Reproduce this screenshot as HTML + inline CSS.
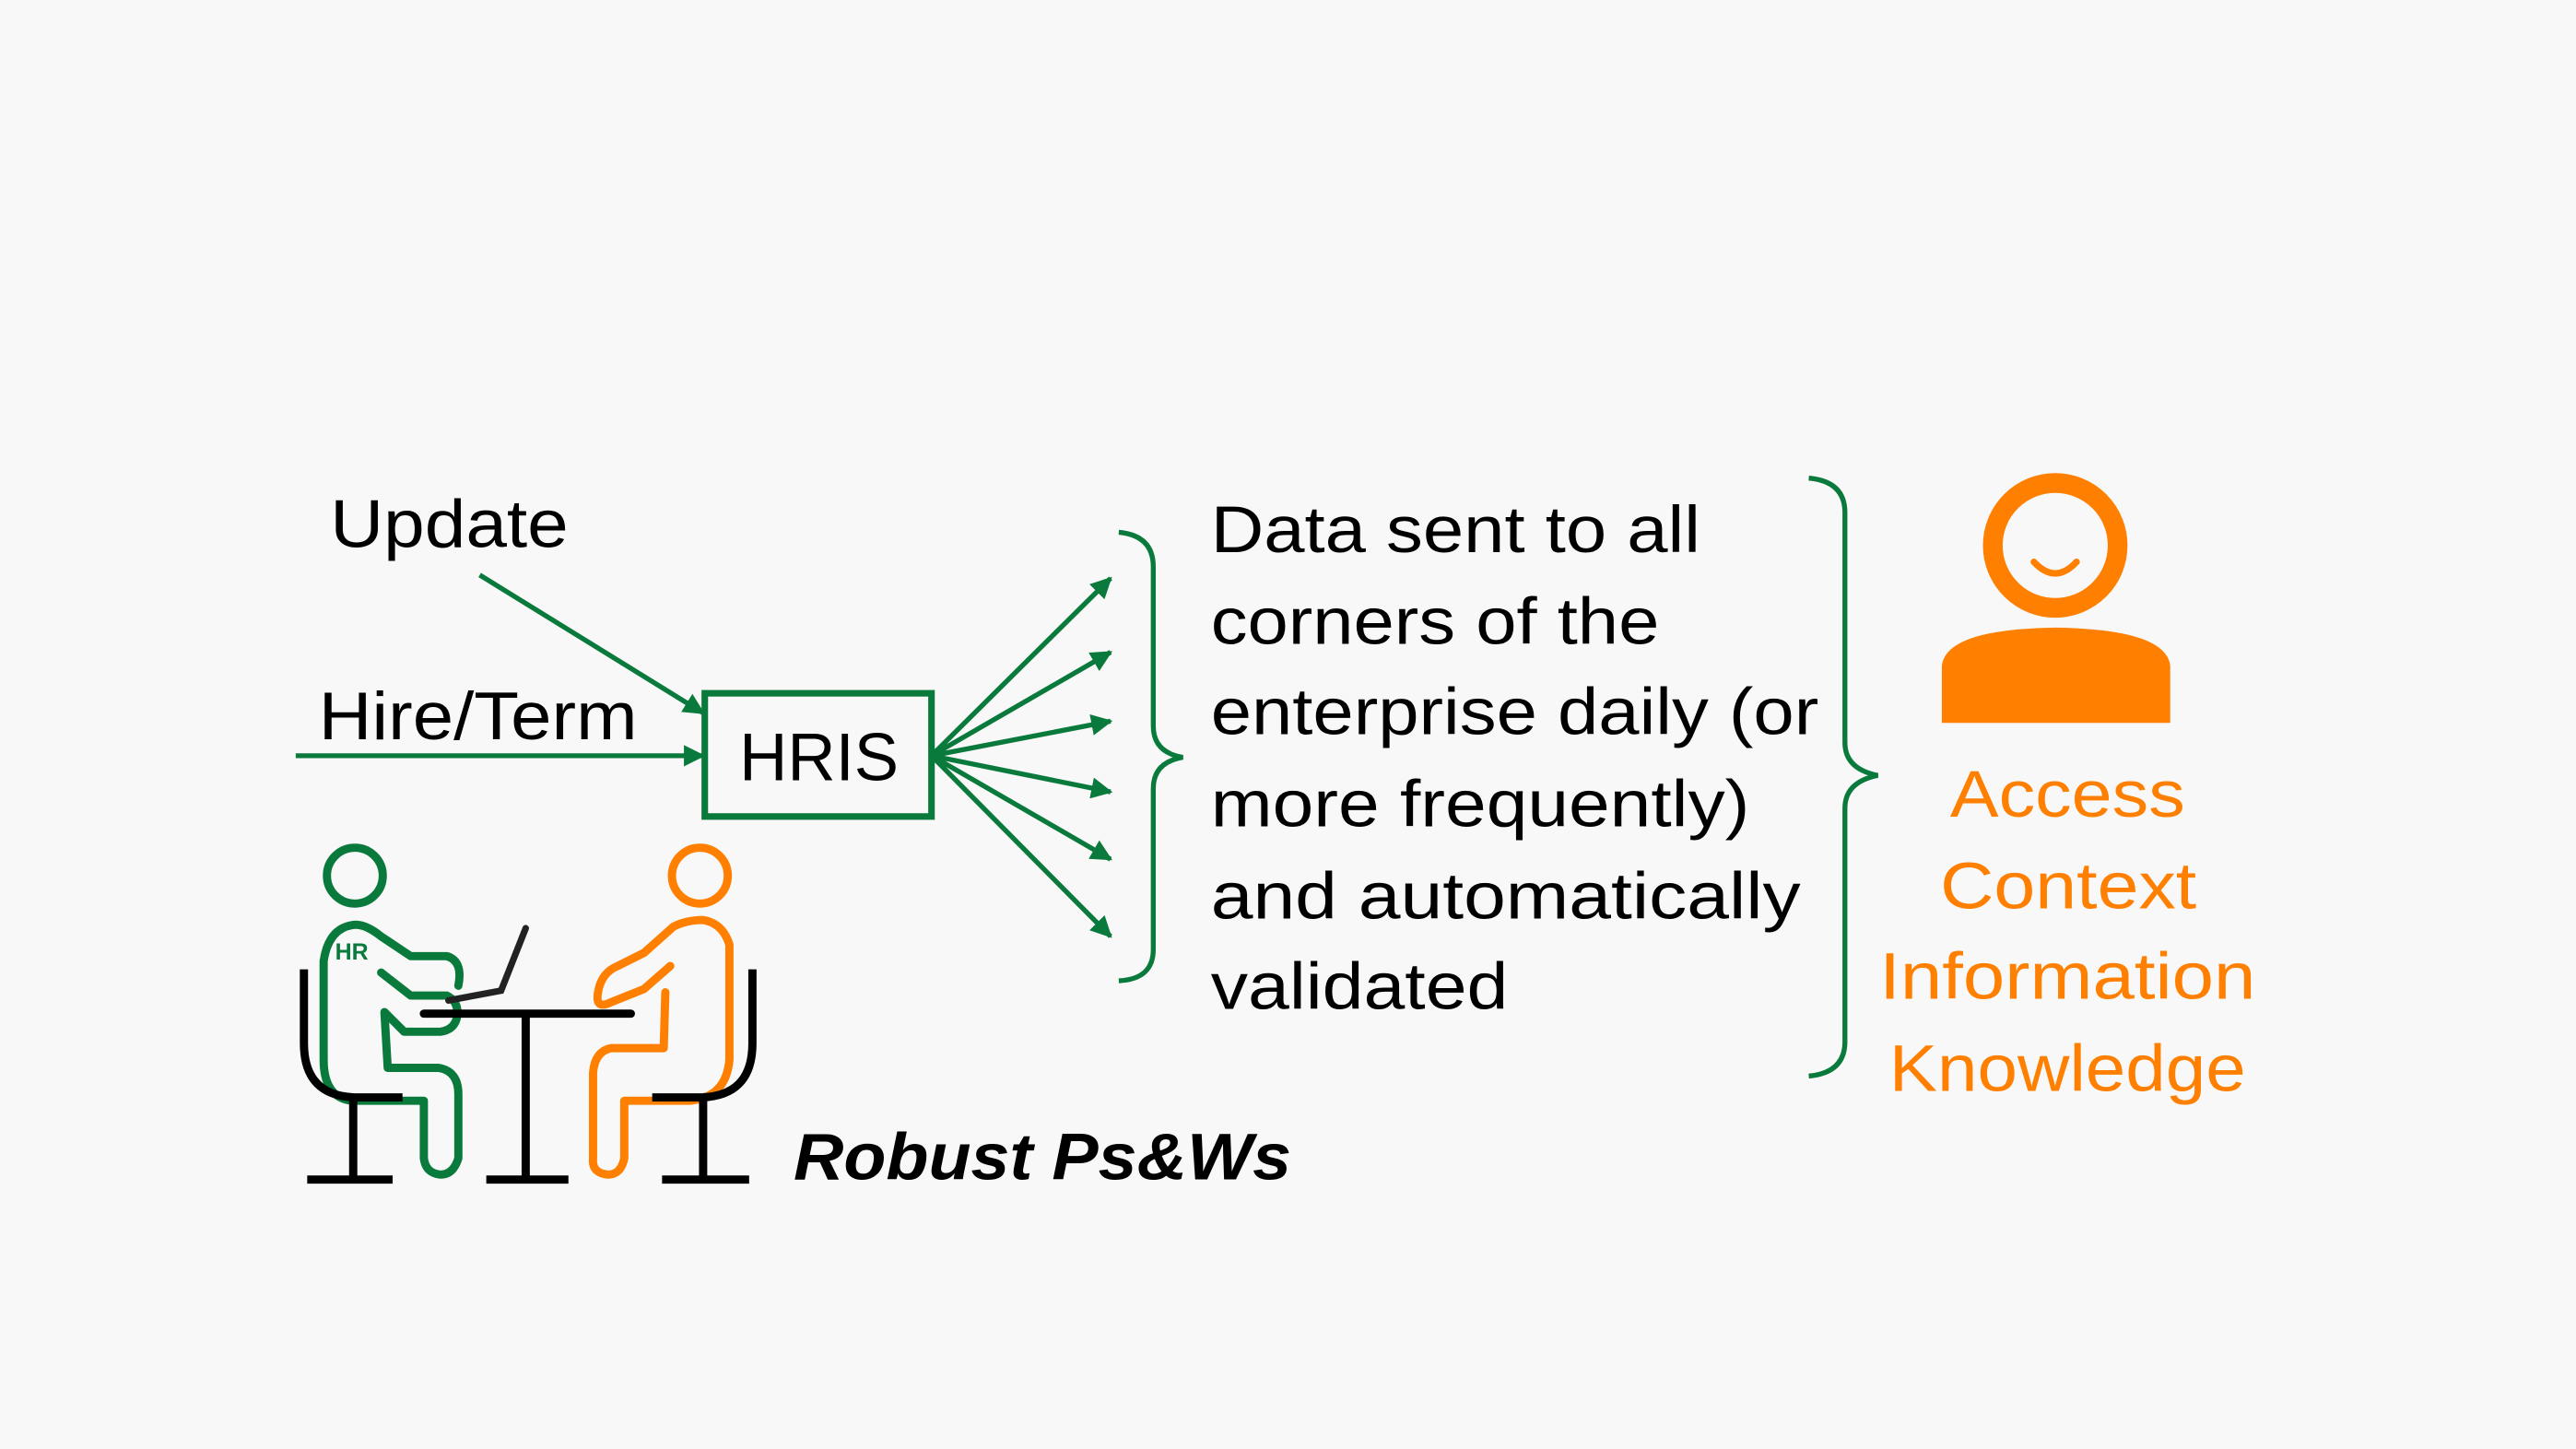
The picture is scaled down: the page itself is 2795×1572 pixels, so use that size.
<!DOCTYPE html>
<html><head><style>html,body{margin:0;padding:0;background:#f8f8f8}svg{display:block}</style></head>
<body>
<svg width="2795" height="1572" viewBox="0 0 1568 882" preserveAspectRatio="none" xmlns="http://www.w3.org/2000/svg" font-family="Liberation Sans, sans-serif">
<rect width="1568" height="882" fill="#f8f8f8"/>
<defs>
<marker id="b" viewBox="0 0 10 10" refX="9" refY="5" markerWidth="13" markerHeight="13" orient="auto" markerUnits="userSpaceOnUse"><path d="M0,0 L10,5 L0,10z" fill="#0a7a3c"/></marker></defs>
<g font-size="41" fill="#000" lengthAdjust="spacingAndGlyphs">
<text x="201" y="333" textLength="145" lengthAdjust="spacingAndGlyphs">Update</text>
<text x="194" y="450" textLength="194" lengthAdjust="spacingAndGlyphs">Hire/Term</text>
<text x="450" y="475" textLength="97" lengthAdjust="spacingAndGlyphs">HRIS</text>
<g font-size="40">
<text x="737" y="336" textLength="298" lengthAdjust="spacingAndGlyphs">Data sent to all</text>
<text x="737" y="392" textLength="273" lengthAdjust="spacingAndGlyphs">corners of the</text>
<text x="737" y="447" textLength="370" lengthAdjust="spacingAndGlyphs">enterprise daily (or</text>
<text x="737" y="503" textLength="328" lengthAdjust="spacingAndGlyphs">more frequently)</text>
<text x="737" y="559" textLength="359" lengthAdjust="spacingAndGlyphs">and automatically</text>
<text x="737" y="614" textLength="181" lengthAdjust="spacingAndGlyphs">validated</text></g>
<text x="483" y="718" font-weight="bold" font-style="italic" font-size="40" textLength="303" lengthAdjust="spacingAndGlyphs">Robust Ps&amp;Ws</text>
</g>
<g font-size="40" fill="#ff7f00">
<text x="1187" y="497" textLength="143" lengthAdjust="spacingAndGlyphs">Access</text>
<text x="1181" y="553" textLength="156" lengthAdjust="spacingAndGlyphs">Context</text>
<text x="1144" y="608" textLength="229" lengthAdjust="spacingAndGlyphs">Information</text>
<text x="1150" y="664" textLength="217" lengthAdjust="spacingAndGlyphs">Knowledge</text></g>
<g stroke="#0a7a3c" stroke-width="3" fill="none">
<line x1="292" y1="350" x2="428" y2="434" marker-end="url(#b)"/>
<line x1="180" y1="460" x2="428" y2="460" marker-end="url(#b)"/>
<rect x="429" y="422" width="138" height="75" stroke-width="4"/>
<line x1="567" y1="460" x2="676" y2="352" marker-end="url(#b)"/>
<line x1="567" y1="460" x2="676" y2="397" marker-end="url(#b)"/>
<line x1="567" y1="460" x2="676" y2="439" marker-end="url(#b)"/>
<line x1="567" y1="460" x2="676" y2="482" marker-end="url(#b)"/>
<line x1="567" y1="460" x2="676" y2="523" marker-end="url(#b)"/>
<line x1="567" y1="460" x2="676" y2="570" marker-end="url(#b)"/>
<path d="M681,324 Q702,326 702,345 L702,442 Q702,458 720,461 Q702,464 702,480 L702,578 Q702,596 681,597"/>
<path d="M1101,291 Q1123,293 1123,312 L1123,452 Q1123,468 1143,472 Q1123,476 1123,492 L1123,634 Q1123,653 1101,655"/>
</g>
<g fill="none" stroke="#ff7f00" stroke-width="12"><circle cx="1251" cy="332" r="38"/></g>
<path d="M1238,342 Q1251,356 1264,342" stroke="#ff7f00" stroke-width="4" fill="none" stroke-linecap="round"/>
<path d="M1182,440 L1182,405 Q1185,383 1251,382 Q1318,383 1321,405 L1321,440 Z" fill="#ff7f00"/>
<g fill="none" stroke-width="5" stroke-linecap="round" stroke-linejoin="round">
<circle cx="216" cy="533" r="17" stroke="#0a7a3c"/>
<circle cx="426" cy="533" r="17" stroke="#ff7f00"/>
<path stroke="#0a7a3c" d="M232,592 L250,606 L272,606 Q280,610 278,620 Q276,627 268,628 L246,628 L234,616 L236,650 L267,650 Q279,652 279,666 L279,705 Q276,715 268,715 Q259,714 258,705 L258,670 L214,670 Q197,668 197,645 L197,585 Q200,565 215,563 Q222,562 232,570 L250,582 L272,582 Q282,585 279,600"/>
<path stroke="#ff7f00" d="M408,588 L392,602 L372,610 Q362,615 364,604 Q366,592 376,588 L392,580 L410,564 Q418,560 428,560 Q440,562 444,575 L444,645 Q442,668 420,670 L380,670 L380,705 Q378,715 370,715 Q360,714 361,705 L361,653 Q362,640 372,638 L404,638 L405,604"/>
<text x="204" y="584" font-size="14" font-weight="bold" fill="#0a7a3c" stroke="none">HR</text>
</g>
<g stroke="#000" stroke-width="5" fill="none" stroke-linecap="butt">
<path d="M185,590 L185,635 Q185,668 218,668 L245,668"/>
<line x1="215" y1="668" x2="215" y2="718"/><line x1="187" y1="718" x2="239" y2="718"/>
<path d="M458,590 L458,635 Q458,668 425,668 L397,668"/>
<line x1="428" y1="668" x2="428" y2="718"/><line x1="403" y1="718" x2="456" y2="718"/>
<line x1="258" y1="617" x2="384" y2="617" stroke-linecap="round"/>
<line x1="320" y1="617" x2="320" y2="718"/><line x1="296" y1="718" x2="346" y2="718"/>
<path d="M273,609 L305,603 L320,565" stroke="#222" stroke-width="4" stroke-linecap="round"/>
</g>
</svg>
</body></html>
